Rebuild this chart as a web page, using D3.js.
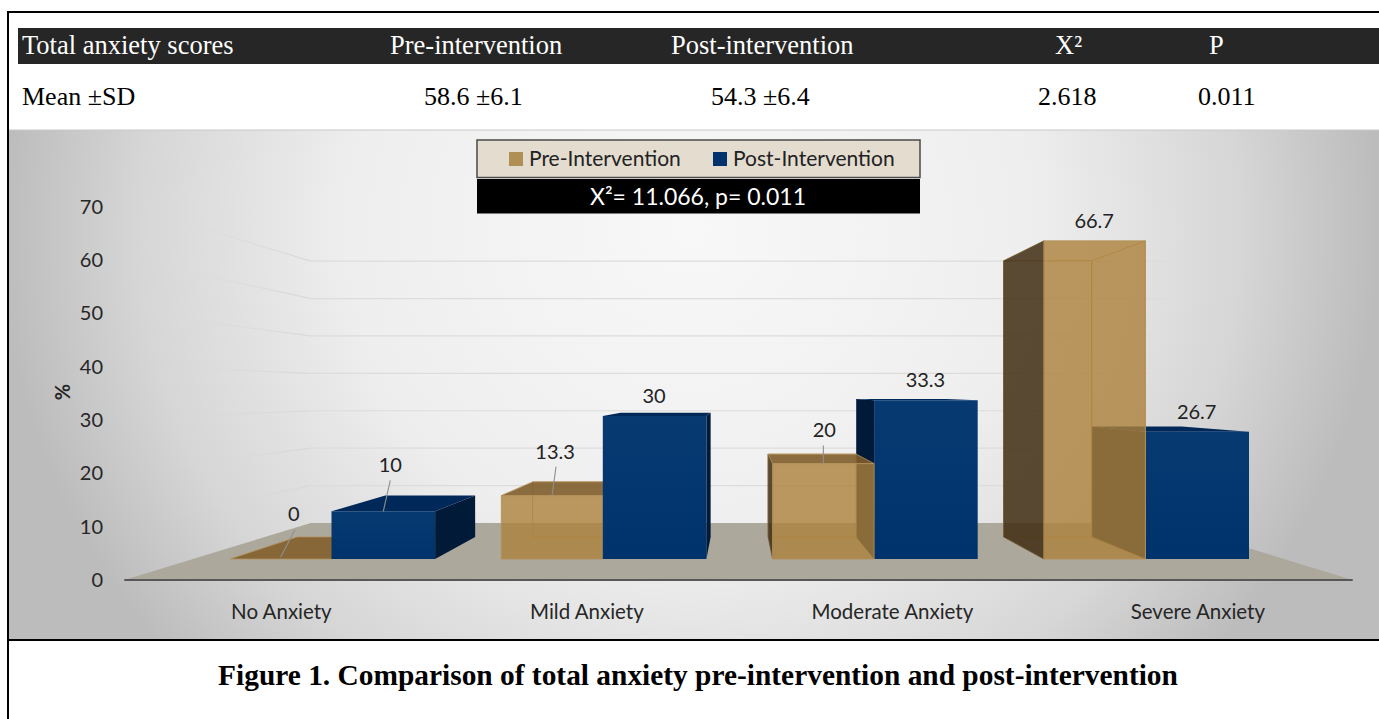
<!DOCTYPE html>
<html><head><meta charset="utf-8">
<script src="https://d3js.org/d3.v7.min.js"></script>
<style>
html,body{margin:0;padding:0;background:#fff;overflow:hidden}
svg{display:block}
.serif{font-family:"Liberation Serif",serif}
.sans{font-family:Lato,"Open Sans",sans-serif}
</style></head><body>
<svg id="c" width="1379" height="719"></svg>
<script>
// ---- data ----
const categories = ["No Anxiety","Mild Anxiety","Moderate Anxiety","Severe Anxiety"];
const seriesNames = ["Pre-Intervention","Post-Intervention"];
const preValues = [0,13.3,20,66.7];
const postValues = [10,30,33.3,26.7];
const valueLabels = [["0","13.3","20","66.7"],["10","30","33.3","26.7"]];
const yTicks = [0,10,20,30,40,50,60,70];
const tableHeader = ["Total anxiety scores","Pre-intervention","Post-intervention","X²","P"];
const tableRow = ["Mean ±SD","58.6 ±6.1","54.3 ±6.4","2.618","0.011"];
const statText = "X²= 11.066, p= 0.011";
const caption = "Figure 1. Comparison of total anxiety pre-intervention and post-intervention";

// ---- layout ----
const svg = d3.select("#c");
const defs = svg.append("defs");
const vp = {x:738.5, y:392};
const depth = {floorFront:1.126, front:1, back:0.868, floorBack:0.784};
const x = d3.scaleBand().domain(categories).range([230,1249]).paddingInner(0.244);
const xIn = d3.scaleLinear().domain([0,1,2]).range([0,101.5,x.bandwidth()]);
const y = d3.scaleLinear().domain([0,70]).range([559,225.1]);
const yLabel = d3.scaleLinear().domain([0,70]).range([580,207]);
const floorX = [193,1284];
const P = (X,v,s)=>[vp.x+(X-vp.x)*s, vp.y+(y(v)-vp.y)*s];
const poly = d3.line();

// background
const bg = defs.append("radialGradient").attr("id","bg").attr("gradientUnits","userSpaceOnUse")
  .attr("cx",0).attr("cy",0).attr("r",1).attr("gradientTransform","translate(690,230) scale(690,650)");
[[0,"#f8f8f8"],[0.5,"#eeeeee"],[0.8,"#d6d6d6"],[1,"#bcbcbc"]].forEach(d=>bg.append("stop").attr("offset",d[0]).attr("stop-color",d[1]));
svg.append("rect").attr("x",9).attr("y",130).attr("width",1370).attr("height",510).attr("fill","url(#bg)");

// frame
svg.append("line").attr("x1",7).attr("x2",1379).attr("y1",12).attr("y2",12).attr("stroke","#000").attr("stroke-width",2);
svg.append("line").attr("x1",8).attr("x2",8).attr("y1",11).attr("y2",719).attr("stroke","#000").attr("stroke-width",2);
svg.append("line").attr("x1",7).attr("x2",1379).attr("y1",640).attr("y2",640).attr("stroke","#000").attr("stroke-width",2);
svg.append("line").attr("x1",9).attr("x2",1379).attr("y1",130).attr("y2",130).attr("stroke","#c8c8c8").attr("stroke-width",1);

// table
svg.append("rect").attr("x",18).attr("y",28).attr("width",1361).attr("height",36).attr("fill","#262626");
const colX = [22,390,671,1055,1209];
const rowX = [22,424,711,1038,1198];
svg.selectAll("text.h").data(tableHeader).join("text").attr("class","h serif")
  .attr("x",(d,i)=>colX[i]).attr("y",53.5).attr("fill","#fff").attr("font-size",26.5).text(d=>d);
svg.selectAll("text.r").data(tableRow).join("text").attr("class","r serif")
  .attr("x",(d,i)=>rowX[i]).attr("y",105).attr("fill","#000").attr("font-size",26).text(d=>d);

// fading wall gridlines
const fade = defs.append("linearGradient").attr("id","fade").attr("gradientUnits","userSpaceOnUse")
  .attr("x1",150).attr("x2",310).attr("y1",0).attr("y2",0);
fade.append("stop").attr("offset",0).attr("stop-color","#d8d8d8").attr("stop-opacity",0);
fade.append("stop").attr("offset",1).attr("stop-color","#d8d8d8").attr("stop-opacity",1);
svg.append("g").selectAll("path").data(yTicks.slice(1)).join("path").attr("fill","none")
  .attr("stroke","url(#fade)").attr("stroke-width",1.2)
  .attr("d",v=>poly([P(floorX[0],v,depth.floorFront),P(floorX[0],v,depth.floorBack)]));
svg.append("g").selectAll("line").data(yTicks.slice(1)).join("line").attr("stroke","#dcdcdc").attr("stroke-width",1.2)
  .attr("x1",P(floorX[0],0,depth.floorBack)[0]).attr("x2",P(floorX[1],0,depth.floorBack)[0])
  .attr("y1",v=>P(0,v,depth.floorBack)[1]).attr("y2",v=>P(0,v,depth.floorBack)[1]);

// floor
svg.append("path").attr("fill","#aca89c").attr("d",poly([
  P(floorX[0],0,depth.floorFront),P(floorX[1],0,depth.floorFront),
  P(floorX[1],0,depth.floorBack),P(floorX[0],0,depth.floorBack)])+"Z");
svg.append("path").attr("stroke","#58585a").attr("stroke-width",2).attr("fill","none")
  .attr("d",poly([P(floorX[0],0,depth.floorFront),P(floorX[1],0,depth.floorFront)]));

// gradient for navy faces
const nav = defs.append("linearGradient").attr("id","navy").attr("x1",0).attr("x2",0).attr("y1",0).attr("y2",1);
nav.append("stop").attr("offset",0).attr("stop-color","#063a71");
nav.append("stop").attr("offset",1).attr("stop-color","#00336b");

const styles = [
 {front:"#ac813b",fa:.8,side:"#3f2d12",sa:.85,top:"#7f5d2a",ta:.9,line:"#b3915a"},
 {front:"url(#navy)",fa:1,side:"#001a38",sa:1,top:"#00295a",ta:1,line:"none"}
];

// bars: farthest from the vanishing point first
const bars = [];
categories.forEach((c,i)=>[preValues[i],postValues[i]].forEach((v,k)=>{
  const x0=x(c)+xIn(k), x1=x(c)+xIn(k+1);
  bars.push({c,i,k,v,x0,x1,dist:Math.abs((x0+x1)/2-vp.x)});
}));
bars.sort((a,b)=>b.dist-a.dist);
const gBars = svg.append("g");
function face(pts,fill,op,stroke){
  gBars.append("path").attr("d",poly(pts)+"Z").attr("fill",fill).attr("fill-opacity",op)
    .attr("stroke",stroke||"none").attr("stroke-width",stroke?0.8:0).attr("stroke-linejoin","round");
}
bars.forEach(b=>{
  const st=styles[b.k], f=depth.front, k=depth.back, v=b.v;
  if(v===0){
    face([P(b.x0,0,f),P(b.x1,0,f),P(b.x1,0,k),P(b.x0,0,k)],"#835f2c",.9,st.line);
    return;
  }
  if(b.k===0){
    face([P(b.x0,0,k),P(b.x1,0,k),P(b.x1,v,k),P(b.x0,v,k)],"none",0,st.line);
  }
  if(b.x0>vp.x) face([P(b.x0,0,f),P(b.x0,v,f),P(b.x0,v,k),P(b.x0,0,k)],st.side,st.sa,b.k===0?"#6f5730":null);
  if(b.x1<vp.x) face([P(b.x1,0,f),P(b.x1,v,f),P(b.x1,v,k),P(b.x1,0,k)],st.side,st.sa);
  if(y(v)>vp.y) face([P(b.x0,v,f),P(b.x1,v,f),P(b.x1,v,k),P(b.x0,v,k)],st.top,st.ta,b.k===0?st.line:null);
  else if(b.k===0) face([P(b.x1,v,f),P(b.x1,0,f),P(b.x1,0,k),P(b.x1,v,k)],"none",0,st.line);
  face([P(b.x0,0,f),P(b.x1,0,f),P(b.x1,v,f),P(b.x0,v,f)],st.front,st.fa,b.k===0?st.line:null);
});

// value labels with leader lines (offsets are layout, not data)
const labelNudge = {
 "0-0":{dx:13,dy:45,from:[0,-2],to:[14,-29]},
 "0-1":{dx:7,dy:46,from:[0,0],to:[7,-31]},
 "1-0":{dx:3,dy:44,from:[0,0],to:[4,-29]},
 "2-0":{dx:1,dy:34,from:[0,0],to:[0,-18]}
};
const gLab = svg.append("g").attr("class","sans");
bars.forEach(b=>{
  const key=b.i+"-"+b.k, n=labelNudge[key]||{dx:-0.5,dy:20};
  const cx=(b.x0+b.x1)/2, top=y(b.v);
  if(n.from) gLab.append("line").attr("x1",cx+n.from[0]).attr("y1",top+n.from[1])
    .attr("x2",cx+n.to[0]).attr("y2",top+n.to[1]).attr("stroke","#8f8f8f").attr("stroke-width",1.1);
  gLab.append("text").attr("x",cx+n.dx).attr("y",top-n.dy).attr("dy","0.35em").attr("text-anchor","middle")
    .attr("font-size",20).attr("fill","#222").text(valueLabels[b.k][b.i]);
});

// y axis
const yAxis = svg.append("g").attr("class","sans").attr("transform","translate(103,0)")
  .call(d3.axisLeft(yLabel).tickValues(yTicks).tickSize(0).tickPadding(0));
yAxis.select(".domain").remove();
yAxis.selectAll("text").attr("font-size",20).attr("font-family",'Lato,"Open Sans",sans-serif').attr("fill","#262626");
svg.append("text").attr("class","sans").attr("transform","translate(63,392) rotate(-90)").attr("text-anchor","middle").attr("dy","0.35em")
  .attr("font-size",20).attr("font-weight",700).attr("fill","#262626").text("%");

// category labels
svg.selectAll("text.cat").data(categories).join("text").attr("class","cat sans")
  .attr("x",c=>P(x(c)+x.bandwidth()/2,0,depth.floorFront)[0]).attr("y",612).attr("dy","0.35em")
  .attr("text-anchor","middle").attr("font-size",20.5).attr("fill","#262626").text(c=>c);

// legend
svg.append("rect").attr("x",477).attr("y",140).attr("width",443).attr("height",37.5).attr("fill","#e3dccf").attr("stroke","#4a4a4a").attr("stroke-width",1.5);
svg.append("rect").attr("x",477).attr("y",179).attr("width",443).attr("height",34.5).attr("fill","#000");
const legendSw = d3.scaleOrdinal().domain(seriesNames).range(["#b08f55","#00336b"]);
const legendX = d3.scaleOrdinal().domain(seriesNames).range([509,713]);
seriesNames.forEach(s=>{
  svg.append("rect").attr("x",legendX(s)).attr("y",152).attr("width",14).attr("height",14).attr("fill",legendSw(s));
  svg.append("text").attr("class","sans").attr("x",legendX(s)+20).attr("y",165.5).attr("font-size",21).attr("fill","#222").text(s);
});
svg.append("text").attr("class","sans").attr("x",698).attr("y",205).attr("text-anchor","middle").attr("font-size",23).attr("fill","#fff").text(statText);

// caption
svg.append("text").attr("class","serif").attr("x",698).attr("y",685).attr("text-anchor","middle")
  .attr("font-size",29.4).attr("font-weight",700).attr("fill","#000").text(caption);
</script></body></html>
